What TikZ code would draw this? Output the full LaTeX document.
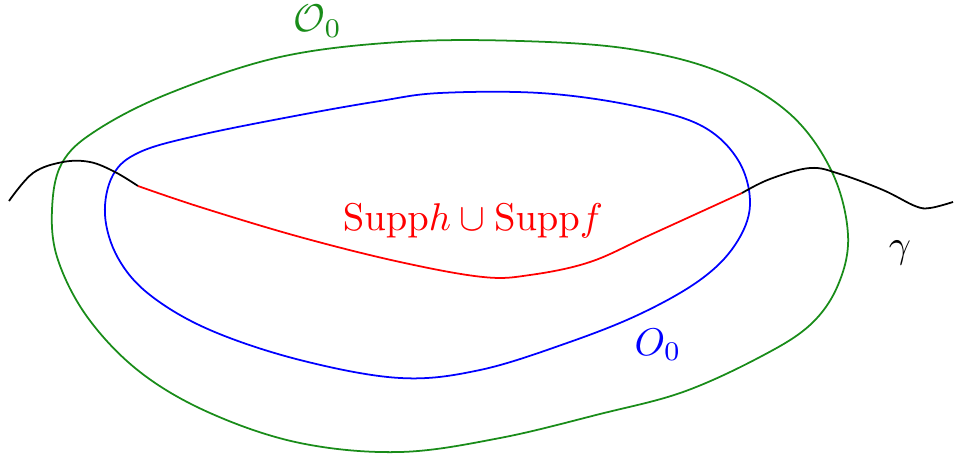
\documentclass[tikz,border=0pt]{standalone}
\usepackage{tikz}
\definecolor{setgreen}{RGB}{25,140,25}
\tikzstyle{outerset} = [
    draw=setgreen,
    line width=1pt
]
\tikzstyle{innerset} = [
    draw=blue,
    line width=1pt
]
\tikzstyle{suppcurve} = [
    draw=red,
    line width=1pt
]
\tikzstyle{gammacurve} = [
    draw=black,
    line width=1pt
]
\tikzstyle{setlabel} = [
    inner sep=0pt,
    anchor=base,
    scale=2.2
]

\begin{document}
\begin{tikzpicture}[x=0.02cm, y=-0.02cm]

\useasboundingbox (0,0) rectangle (955,459);

\coordinate (suppL) at (138,186);
\coordinate (suppR) at (742,193);

\draw [outerset] plot [smooth cycle, tension=0.6] coordinates {
    (400,42) (520,41) (630,49) (720,72) (790,114) (832,172)
    (848,235) (838,285) (810,325) (760,357) (683,392) (600,414)
    (500,438) (400,452) (300,443) (210,413) (140,372) (88,318)
    (58,260) (52,210) (62,163) (97,130) (170,93) (280,57)};

\draw [innerset] plot [smooth cycle, tension=0.6] coordinates {
    (440,93) (540,93) (630,105) (700,125) (738,160) (750,205)
    (735,245) (700,280) (640,314) (567,343) (480,370) (400,378)
    (300,360) (210,330) (150,295) (118,258) (105,215) (113,175)
    (140,152) (200,135) (300,115) (380,101)};

\draw [gammacurve] plot [smooth, tension=0.6] coordinates {
    (9,201) (33,173) (63,162) (90,162) (115,172) (suppL)};

\draw [suppcurve] plot [smooth, tension=0.6] coordinates {
    (suppL) (200,207) (300,237) (400,262) (483,277) (530,275)
    (590,262) (650,235) (suppR)};

\draw [gammacurve] plot [smooth, tension=0.6] coordinates {
    (suppR) (770,179) (810,168) (840,174) (883,190) (915,206)
    (930,208) (953,202)};

\node (outerlbl) [setlabel, text=setgreen] at (318,32) {$\mathcal{O}_0$};
\node (innerlbl) [setlabel, text=blue] at (658,355) {$O_0$};
\node (supplbl) [setlabel, text=red] at (473,230)
{$\mathrm{Supp}h \cup \mathrm{Supp}f$};
\node (gammalbl) [setlabel] at (900,257) {$\gamma$};

\end{tikzpicture}
\end{document}
